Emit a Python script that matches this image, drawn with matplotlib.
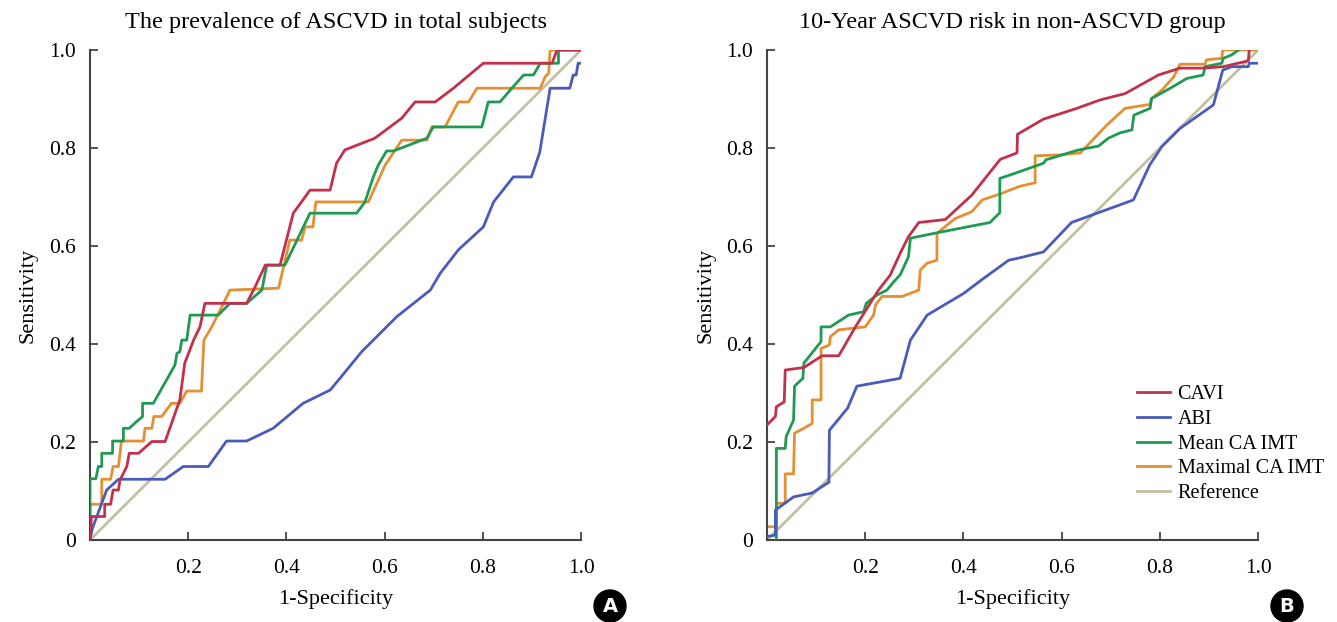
import matplotlib.pyplot as plt
import matplotlib.patches as mpatches

plt.rcParams['font.family'] = ['Liberation Serif', 'DejaVu Serif']

# ---- panel A : prevalence of ASCVD in total subjects ----
a_cavi_x = [0, 0.003, 0.030, 0.030, 0.042, 0.047, 0.058, 0.061, 0.075, 0.080, 0.099, 0.126, 0.153, 0.183,
            0.193, 0.211, 0.224, 0.234, 0.319, 0.335, 0.357, 0.387, 0.414, 0.448, 0.489, 0.502, 0.519,
            0.580, 0.635, 0.662, 0.703, 0.740, 0.801, 0.917, 0.941, 0.951, 1.0]
a_cavi_y = [0, 0.048, 0.048, 0.073, 0.073, 0.102, 0.102, 0.122, 0.150, 0.177, 0.177, 0.201, 0.201, 0.286,
            0.361, 0.408, 0.435, 0.483, 0.483, 0.514, 0.561, 0.561, 0.667, 0.714, 0.714, 0.769, 0.796,
            0.820, 0.861, 0.894, 0.894, 0.922, 0.973, 0.973, 0.973, 1.0, 1.0]

a_abi_x = [0, 0.005, 0.034, 0.058, 0.153, 0.190, 0.241, 0.278, 0.319, 0.373, 0.434, 0.489, 0.509, 0.553,
           0.625, 0.693, 0.713, 0.750, 0.801, 0.822, 0.862, 0.899, 0.916, 0.937, 0.977, 0.984, 0.990,
           0.994, 1.0]
a_abi_y = [0, 0.024, 0.102, 0.124, 0.124, 0.150, 0.150, 0.202, 0.202, 0.228, 0.279, 0.306, 0.330, 0.384,
           0.456, 0.510, 0.544, 0.592, 0.639, 0.690, 0.741, 0.741, 0.792, 0.922, 0.922, 0.949, 0.949,
           0.973, 0.973]

a_mean_x = [0, 0, 0.012, 0.017, 0.024, 0.024, 0.046, 0.046, 0.068, 0.068, 0.080, 0.093, 0.107, 0.107,
            0.129, 0.173, 0.177, 0.183, 0.187, 0.197, 0.204, 0.261, 0.285, 0.319, 0.350, 0.360, 0.397,
            0.448, 0.543, 0.560, 0.577, 0.587, 0.604, 0.618, 0.686, 0.699, 0.798, 0.811, 0.835, 0.859,
            0.883, 0.903, 0.917, 0.954, 0.954, 1.0]
a_mean_y = [0, 0.125, 0.125, 0.150, 0.150, 0.177, 0.177, 0.202, 0.202, 0.228, 0.228, 0.240, 0.252, 0.279,
            0.279, 0.357, 0.381, 0.384, 0.408, 0.408, 0.459, 0.459, 0.483, 0.483, 0.510, 0.561, 0.561,
            0.667, 0.667, 0.690, 0.741, 0.765, 0.794, 0.794, 0.820, 0.843, 0.843, 0.894, 0.894, 0.922,
            0.949, 0.949, 0.973, 0.973, 1.0, 1.0]

a_max_x = [0, 0, 0.024, 0.024, 0.042, 0.047, 0.058, 0.064, 0.109, 0.112, 0.126, 0.130, 0.146, 0.166,
           0.183, 0.197, 0.227, 0.232, 0.248, 0.265, 0.285, 0.384, 0.407, 0.431, 0.438, 0.454, 0.460,
           0.567, 0.601, 0.635, 0.686, 0.696, 0.723, 0.750, 0.771, 0.788, 0.917, 0.927, 0.934, 0.937, 1.0]
a_max_y = [0, 0.073, 0.073, 0.124, 0.124, 0.150, 0.150, 0.202, 0.202, 0.228, 0.228, 0.252, 0.252, 0.279,
           0.279, 0.304, 0.304, 0.408, 0.435, 0.469, 0.510, 0.514, 0.612, 0.612, 0.639, 0.639, 0.690,
           0.690, 0.765, 0.816, 0.816, 0.843, 0.843, 0.894, 0.894, 0.922, 0.922, 0.946, 0.952, 1.0, 1.0]

# ---- panel B : 10-year ASCVD risk in non-ASCVD group ----
b_cavi_x = [0, 0.017, 0.019, 0.035, 0.037, 0.075, 0.112, 0.146, 0.180, 0.210, 0.227, 0.251, 0.271, 0.288,
            0.309, 0.363, 0.417, 0.475, 0.509, 0.510, 0.563, 0.631, 0.678, 0.729, 0.797, 0.841, 0.888,
            0.929, 0.980, 0.982]
b_cavi_y = [0.235, 0.252, 0.272, 0.282, 0.347, 0.352, 0.376, 0.376, 0.435, 0.483, 0.510, 0.541, 0.585,
            0.619, 0.648, 0.654, 0.704, 0.777, 0.790, 0.828, 0.859, 0.881, 0.898, 0.911, 0.949, 0.963,
            0.963, 0.966, 0.978, 1.0]

b_abi_x = [0, 0.017, 0.017, 0.054, 0.092, 0.126, 0.127, 0.164, 0.183, 0.271, 0.292, 0.326, 0.400, 0.437,
           0.492, 0.515, 0.563, 0.620, 0.746, 0.779, 0.804, 0.841, 0.875, 0.909, 0.928, 0.946, 0.980,
           0.982, 1.0]
b_abi_y = [0.007, 0.010, 0.061, 0.088, 0.096, 0.118, 0.224, 0.269, 0.314, 0.330, 0.408, 0.459, 0.503, 0.531,
           0.571, 0.576, 0.588, 0.648, 0.694, 0.765, 0.803, 0.840, 0.864, 0.888, 0.959, 0.966, 0.966,
           0.973, 0.973]

b_mean_x = [0.019, 0.019, 0.037, 0.039, 0.054, 0.056, 0.073, 0.075, 0.110, 0.110, 0.129, 0.166, 0.197,
            0.202, 0.224, 0.244, 0.258, 0.271, 0.288, 0.292, 0.346, 0.454, 0.474, 0.474, 0.495, 0.563,
            0.568, 0.634, 0.675, 0.695, 0.719, 0.743, 0.747, 0.780, 0.783, 0.821, 0.855, 0.888, 0.892,
            0.926, 0.929, 0.946, 0.960]
b_mean_y = [0, 0.187, 0.187, 0.211, 0.245, 0.314, 0.330, 0.361, 0.405, 0.435, 0.435, 0.459, 0.466,
            0.483, 0.500, 0.510, 0.527, 0.541, 0.578, 0.616, 0.627, 0.648, 0.668, 0.738, 0.745, 0.769,
            0.776, 0.796, 0.804, 0.820, 0.831, 0.837, 0.867, 0.881, 0.901, 0.922, 0.942, 0.949, 0.966,
            0.973, 0.983, 0.990, 1.0]

b_max_x = [0, 0.019, 0.019, 0.037, 0.037, 0.054, 0.056, 0.075, 0.092, 0.092, 0.110, 0.110, 0.127, 0.129,
           0.146, 0.200, 0.217, 0.221, 0.234, 0.275, 0.309, 0.312, 0.326, 0.346, 0.346, 0.383, 0.417,
           0.438, 0.474, 0.515, 0.546, 0.546, 0.597, 0.638, 0.692, 0.729, 0.780, 0.783, 0.804, 0.828,
           0.841, 0.892, 0.895, 0.926, 0.928, 1.0]
b_max_y = [0.027, 0.027, 0.075, 0.075, 0.135, 0.135, 0.218, 0.228, 0.238, 0.286, 0.286, 0.391, 0.398,
           0.415, 0.429, 0.435, 0.459, 0.480, 0.497, 0.497, 0.510, 0.551, 0.565, 0.571, 0.626, 0.656,
           0.670, 0.694, 0.706, 0.722, 0.729, 0.784, 0.786, 0.790, 0.847, 0.881, 0.889, 0.901, 0.918,
           0.945, 0.971, 0.971, 0.980, 0.983, 1.0, 1.0]

ref_x = [0, 1]
ref_y = [0, 1]

labels = ['CAVI', 'ABI', 'Mean CA IMT', 'Maximal CA IMT', 'Reference']
colors = ['#c2304b', '#4a5bbb', '#1e9a52', '#e58f35', '#c3c0a2']
titles = ['The prevalence of ASCVD in total subjects', '10-Year ASCVD risk in non-ASCVD group']
badges = ['A', 'B']

panels = [
    [(a_cavi_x, a_cavi_y), (a_abi_x, a_abi_y), (a_mean_x, a_mean_y), (a_max_x, a_max_y)],
    [(b_cavi_x, b_cavi_y), (b_abi_x, b_abi_y), (b_mean_x, b_mean_y), (b_max_x, b_max_y)],
]

fig = plt.figure(figsize=(13.37, 6.22), dpi=100)
ax_a = fig.add_axes([0.0673, 0.1318, 0.3673, 0.7878])
ax_b = fig.add_axes([0.5737, 0.1318, 0.3673, 0.7878])

for i, ax in enumerate([ax_a, ax_b]):
    ax.plot(ref_x, ref_y, color=colors[4], lw=2, label=labels[4], zorder=1)
    for j, (xs, ys) in enumerate(panels[i]):
        ax.plot(xs, ys, color=colors[j], lw=2, label=labels[j], zorder=2 + (3 - j))
    ax.set_xlim(0, 1)
    ax.set_ylim(0, 1)
    ax.spines['top'].set_visible(False)
    ax.spines['right'].set_visible(False)
    for s in ['left', 'bottom']:
        ax.spines[s].set_color('#444444')
        ax.spines[s].set_linewidth(1.5)
    ax.set_xticks([0.2, 0.4, 0.6, 0.8, 1.0])
    ax.set_xticklabels(['0.2', '0.4', '0.6', '0.8', '1.0'])
    ax.set_yticks([0, 0.2, 0.4, 0.6, 0.8, 1.0])
    ax.set_yticklabels(['0', '0.2', '0.4', '0.6', '0.8', '1.0'])
    ax.tick_params(direction='in', length=6, width=1.3, color='#444444', labelsize=15.5)
    ax.tick_params(axis='x', pad=14)
    ax.tick_params(axis='y', pad=10)
    ax.set_xlabel('1-Specificity', fontsize=16, labelpad=8)
    ax.set_ylabel('Sensitivity', fontsize=16, labelpad=8)
    ax.set_title(titles[i], fontsize=17.5, pad=16)
    for sp in ax.spines.values():
        sp.set_clip_on(False)

    # panel badge
    bx = 610 / 1337 if i == 0 else 1287 / 1337
    fig.patches.append(mpatches.Ellipse((bx, 1 - 606 / 622), 32 / 1337, 32 / 622,
                                        transform=fig.transFigure, color='black'))
    fig.text(bx, 1 - 607 / 622, badges[i], color='white', fontsize=14, fontweight='bold',
             family='DejaVu Sans', ha='center', va='center')

handles, labs = ax_b.get_legend_handles_labels()
order = [1, 2, 3, 4, 0]
ax_b.legend([handles[k] for k in order], [labs[k] for k in order], loc='upper left',
            bbox_to_anchor=(0.754, 0.316), frameon=False, fontsize=14.5, handlelength=1.6,
            handletextpad=0.4, labelspacing=0.28, borderpad=0, borderaxespad=0)

fig.savefig('out.png', dpi=100)
